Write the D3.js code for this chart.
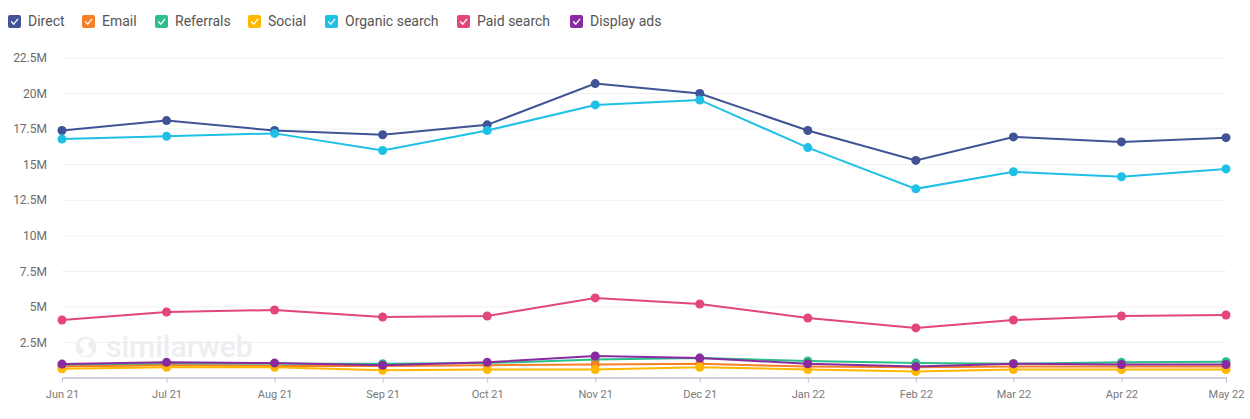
<!DOCTYPE html>
<html><head><meta charset="utf-8">
<script src="https://cdn.jsdelivr.net/npm/d3@7"></script>
<style>
html,body{margin:0;padding:0;background:#fff;}
svg{display:block;font-family:Roboto, "Open Sans", sans-serif;}
</style></head>
<body>
<svg id="chart" width="1250" height="419"></svg>
<script>
const months = ["2021-06","2021-07","2021-08","2021-09","2021-10","2021-11","2021-12","2022-01","2022-02","2022-03","2022-04","2022-05"];
const monthLabels = ["Jun 21","Jul 21","Aug 21","Sep 21","Oct 21","Nov 21","Dec 21","Jan 22","Feb 22","Mar 22","Apr 22","May 22"];
const seriesNames = ["Direct","Email","Referrals","Social","Organic search","Paid search","Display ads"];
const seriesColors = ["#3f5396","#f58025","#2bbf8a","#ffb800","#1ec0e6","#e2467a","#8a2aa0"];
const direct    = [17.4,18.1,17.4,17.1,17.8,20.7,20.0,17.4,15.3,16.95,16.6,16.9];
const email     = [0.8,0.9,0.85,0.85,0.9,0.95,1.0,0.8,0.75,0.8,0.8,0.8];
const referrals = [0.9,1.0,1.0,1.0,1.05,1.3,1.4,1.2,1.05,1.0,1.1,1.15];
const social    = [0.65,0.75,0.75,0.55,0.6,0.6,0.75,0.6,0.45,0.6,0.6,0.6];
const organic   = [16.8,17.0,17.2,16.0,17.4,19.2,19.55,16.2,13.3,14.5,14.15,14.7];
const paid      = [4.08,4.64,4.78,4.29,4.36,5.63,5.2,4.22,3.52,4.08,4.36,4.43];
const display   = [0.98,1.1,1.05,0.9,1.1,1.55,1.4,1.0,0.8,1.0,0.95,0.95];
const yTicks = [2.5,5,7.5,10,12.5,15,17.5,20,22.5];
const yTickLabels = ["2.5M","5M","7.5M","10M","12.5M","15M","17.5M","20M","22.5M"];

const seriesValues = [direct,email,referrals,social,organic,paid,display];
const parse = d3.timeParse("%Y-%m");
const dates = months.map(parse);

const svg = d3.select("#chart");
const x = d3.scaleTime().domain([dates[0], dates[dates.length-1]]).range([62,1226]);
const y = d3.scaleLinear().domain([0,22.5]).range([378,58]);

// gridlines
svg.append("g").selectAll("line").data(yTicks).join("line")
  .attr("x1",x.range()[0]).attr("x2",x.range()[1])
  .attr("y1",d=>y(d)).attr("y2",d=>y(d))
  .attr("stroke","#f0f0f0").attr("stroke-width",1);

// y labels
svg.append("g").selectAll("text").data(yTicks).join("text")
  .attr("x",47).attr("y",d=>y(d)).attr("dy","0.35em")
  .attr("text-anchor","end").attr("font-size",12).attr("fill","#6b6b6b")
  .text((d,i)=>yTickLabels[i]);

// watermark
const wm = svg.append("g");
wm.append("circle").attr("cx",86).attr("cy",347).attr("r",10.5).attr("fill","#eceef1");
wm.append("path").attr("d","M82,340 q6,-3 9,1 q-6,3 -1,7 q5,4 -2,8 q-6,2 -8,-2 q6,-2 2,-6 q-5,-4 0,-8z").attr("fill","#fff");
wm.append("text").attr("x",106).attr("y",357).attr("font-size",30).attr("font-weight",500)
  .attr("fill","#eceef1").text("similarweb");

// x axis
const xAxis = d3.axisBottom(x).tickValues(dates).tickSize(5).tickSizeOuter(0)
  .tickFormat((d,i)=>monthLabels[i]);
const gx = svg.append("g").attr("transform","translate(0,377.5)").call(xAxis);
gx.select(".domain").attr("stroke","#9ea3b5").attr("stroke-width",1.2);
gx.selectAll(".tick line").attr("stroke","#b9c3d6");
gx.selectAll(".tick text").attr("font-size",11).attr("fill","#7a7a7a").attr("dy","1.1em")
  .attr("font-family","Roboto, sans-serif");

// lines
const line = d3.line().x((d,i)=>x(dates[i])).y(d=>y(d));
const order = [2,1,3,0,4,5,6];
order.forEach(si=>{
  const g = svg.append("g");
  g.append("path").datum(seriesValues[si]).attr("d",line)
    .attr("fill","none").attr("stroke",seriesColors[si]).attr("stroke-width",2);
  g.selectAll("circle").data(seriesValues[si]).join("circle")
    .attr("cx",(d,i)=>x(dates[i])).attr("cy",d=>y(d)).attr("r",4.5)
    .attr("fill",seriesColors[si]);
});

// legend
const legendX = [8,82,155,248,325,457,570];
const lg = svg.append("g");
seriesNames.forEach((n,i)=>{
  const g = lg.append("g").attr("transform",`translate(${legendX[i]},15)`);
  g.append("rect").attr("width",13).attr("height",13).attr("rx",2).attr("fill",seriesColors[i]);
  g.append("path").attr("d","M3.5,6.8 L5.8,9.2 L9.8,4.2").attr("fill","none")
    .attr("stroke","#fff").attr("stroke-width",1.3).attr("stroke-linecap","round").attr("stroke-linejoin","round");
  g.append("text").attr("x",20).attr("y",6).attr("dy","0.35em").attr("font-size",14)
    .attr("fill","#555").text(n);
});
</script>
</body></html>
